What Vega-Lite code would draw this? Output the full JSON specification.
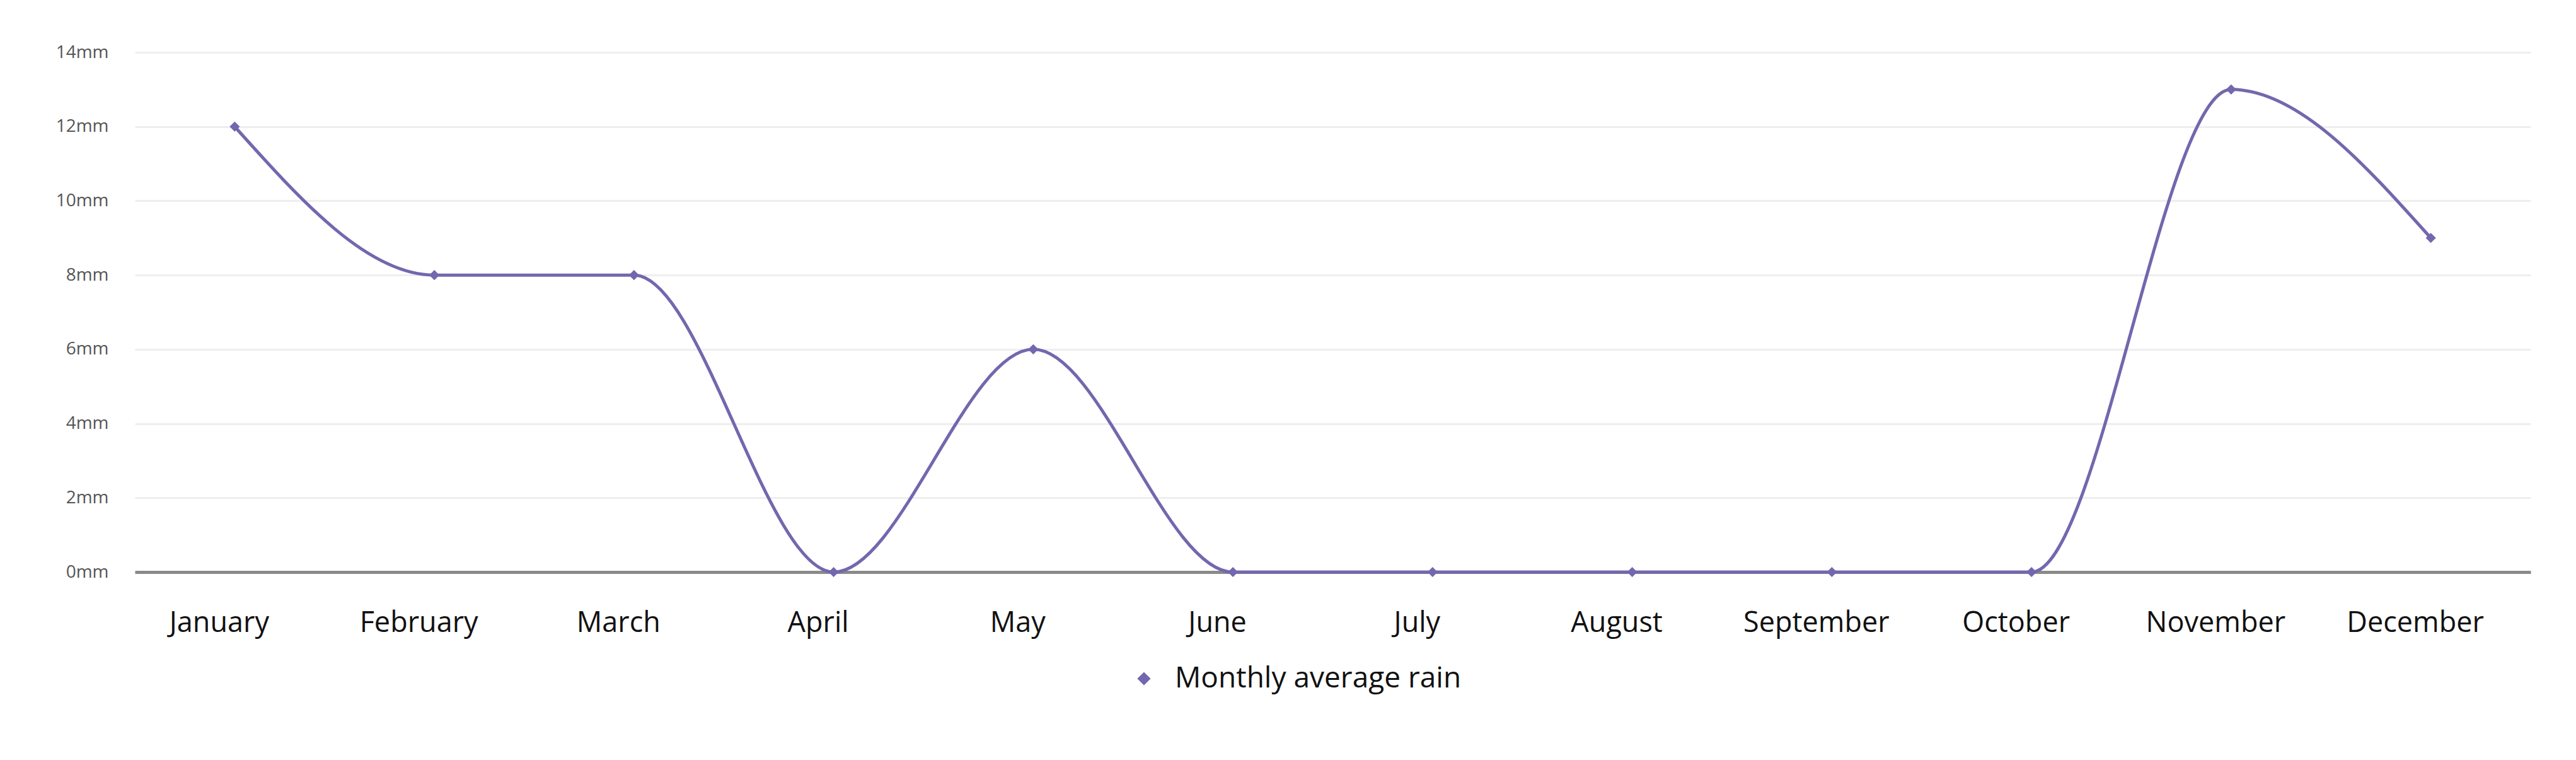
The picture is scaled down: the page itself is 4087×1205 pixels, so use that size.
{
  "$schema": "https://vega.github.io/schema/vega-lite/v6.json",
  "width": 3801,
  "height": 824,
  "autosize": {"type": "none"},
  "padding": {"left": 214, "top": 83, "right": 72, "bottom": 298},
  "background": "white",
  "data": {
    "values": [
      {"month": "January", "rain": 12},
      {"month": "February", "rain": 8},
      {"month": "March", "rain": 8},
      {"month": "April", "rain": 0},
      {"month": "May", "rain": 6},
      {"month": "June", "rain": 0},
      {"month": "July", "rain": 0},
      {"month": "August", "rain": 0},
      {"month": "September", "rain": 0},
      {"month": "October", "rain": 0},
      {"month": "November", "rain": 13},
      {"month": "December", "rain": 9}
    ]
  },
  "encoding": {
    "x": {
      "field": "month",
      "type": "ordinal",
      "sort": null,
      "scale": {"type": "point", "padding": 0.5},
      "axis": {
        "title": null,
        "labelAngle": 0,
        "ticks": false,
        "grid": false,
        "domain": true,
        "domainColor": "#8a8a8a",
        "domainWidth": 5,
        "labelFont": "Open Sans",
        "labelFontSize": 45,
        "labelColor": "#111111",
        "labelPadding": 58,
        "labelOffset": -25,
        "labelLimit": 0
      }
    },
    "y": {
      "field": "rain",
      "type": "quantitative",
      "scale": {"domain": [0, 14], "nice": false},
      "axis": {
        "title": null,
        "values": [0, 2, 4, 6, 8, 10, 12, 14],
        "labelExpr": "datum.value + 'mm'",
        "ticks": false,
        "domain": false,
        "grid": true,
        "gridColor": "#eeeeee",
        "gridWidth": 3,
        "labelFont": "Open Sans",
        "labelFontSize": 28,
        "labelColor": "#555555",
        "labelPadding": 42
      }
    },
    "color": {
      "datum": "Monthly average rain",
      "type": "nominal",
      "scale": {"range": ["#7168AE"]},
      "legend": {
        "title": null,
        "orient": "none",
        "legendX": 1578,
        "legendY": 970,
        "symbolType": "diamond",
        "symbolSize": 450,
        "symbolFillColor": "#5E52A2",
        "symbolStrokeWidth": 0,
        "labelOffset": 26,
        "labelFont": "Open Sans",
        "labelFontSize": 46,
        "labelColor": "#111111",
        "labelLimit": 0
      }
    }
  },
  "layer": [
    {
      "mark": {"type": "line", "interpolate": "monotone", "strokeWidth": 5, "color": "#7168AE"}
    },
    {
      "mark": {"type": "point", "shape": "diamond", "filled": true, "size": 260, "color": "#5A4E9E", "opacity": 1}
    }
  ],
  "config": {
    "view": {"stroke": null}
  }
}
